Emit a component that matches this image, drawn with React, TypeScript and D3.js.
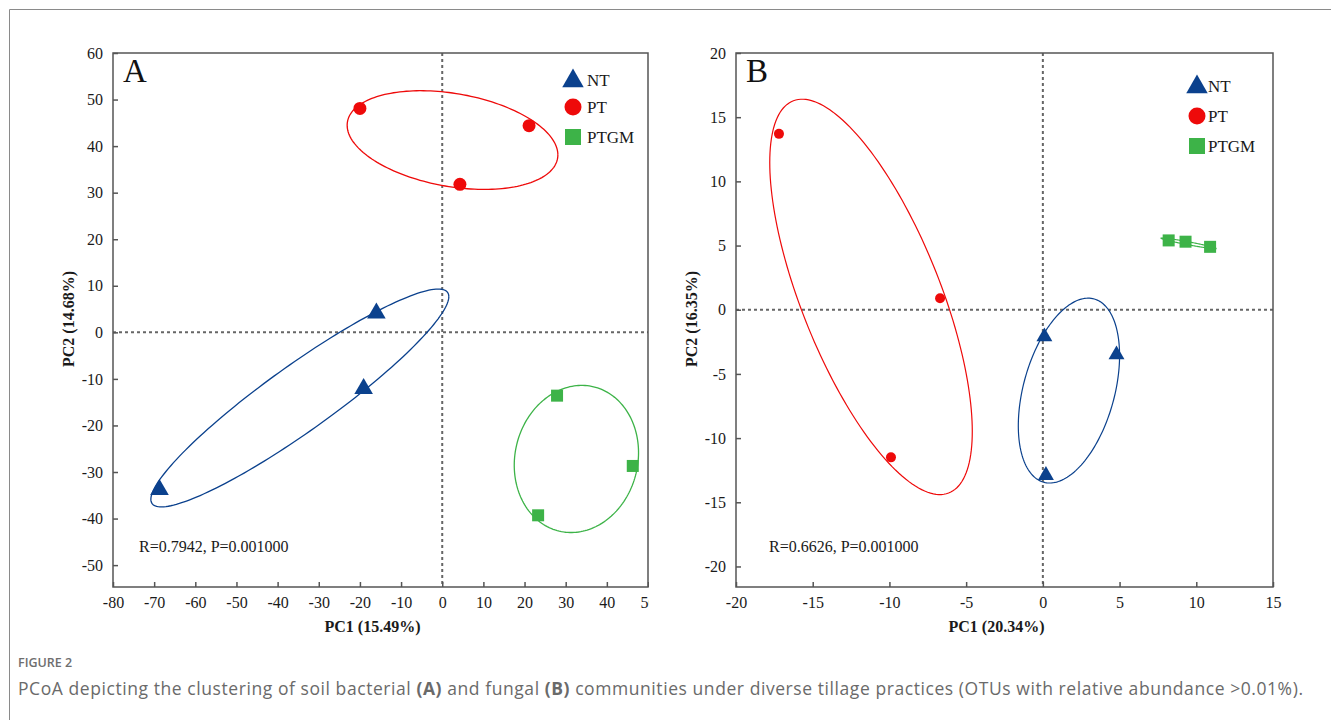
import React, { useEffect, useRef } from 'react';
import * as d3 from 'd3';

const groups = ['NT', 'PT', 'PTGM'];
const groupColors = ['#0b418d', '#ee0a0a', '#3db348'];

// panel A (bacteria), PC1 / PC2 scores
const aNT = [[-68.7, -33.8], [-19.1, -12.1], [-16.0, 4.1]];
const aPT = [[-20.0, 48.1], [21.1, 44.4], [4.3, 31.8]];
const aPTGM = [[27.9, -13.6], [46.3, -28.7], [23.3, -39.3]];
// ellipses: cx, cy, half-extent x, half-extent y, correlation
const aEllipses = [
    [-34.6, -14.1, 36.2, 23.4, 0.93],
    [2.5, 41.3, 25.6, 10.6, -0.3],
    [32.6, -27.2, 15.1, 15.8, 0.085],
];
const aXTicks = [-80, -70, -60, -50, -40, -30, -20, -10, 0, 10, 20, 30, 40, 50];
const aYTicks = [-50, -40, -30, -20, -10, 0, 10, 20, 30, 40, 50, 60];

// panel B (fungi)
const bNT = [[0.1, -2.1], [4.8, -3.5], [0.2, -12.9]];
const bPT = [[-17.2, 13.7], [-6.7, 0.9], [-9.9, -11.5]];
const bPTGM = [[8.2, 5.4], [9.3, 5.3], [10.9, 4.9]];
const bEllipses = [
    [1.7, -6.3, 3.3, 7.2, 0.38],
    [-11.2, 1.0, 6.6, 15.4, -0.68],
    [9.5, 5.17, 1.8, 0.42, -0.96],
];
const bXTicks = [-20, -15, -10, -5, 0, 5, 10, 15];
const bYTicks = [-20, -15, -10, -5, 0, 5, 10, 15, 20];

const serif = '"Liberation Serif", "Times New Roman", serif';

const panels = [
    {
        id: 'A', left: 113, right: 648, xDomain: [-80, 50], yDomain: [-54.7, 60],
        series: [aNT, aPT, aPTGM], ellipses: aEllipses, xTicks: aXTicks, yTicks: aYTicks,
        xTitle: 'PC1 (15.49%)', yTitle: 'PC2 (14.68%)', stat: 'R=0.7942, P=0.001000',
        legendX: 573, legendY: [80, 107, 137], legendTextX: 587, big: true,
    },
    {
        id: 'B', left: 736, right: 1273, xDomain: [-20, 15], yDomain: [-21.6, 20],
        series: [bNT, bPT, bPTGM], ellipses: bEllipses, xTicks: bXTicks, yTicks: bYTicks,
        xTitle: 'PC1 (20.34%)', yTitle: 'PC2 (16.35%)', stat: 'R=0.6626, P=0.001000',
        legendX: 1197, legendY: [86, 116, 146], legendTextX: 1208, big: false,
    },
];

const top = 53;
const bottom = 587;

const App = () => {
    const svgRef = useRef(null);

    useEffect(() => {
        const svg = d3.select(svgRef.current);
        svg.selectAll('*').remove();

        // page frame
        svg.append('line').attr('x1', 9.5).attr('x2', 1331).attr('y1', 9.5).attr('y2', 9.5)
            .attr('stroke', '#8a8a8a').attr('stroke-width', 1);
        svg.append('line').attr('x1', 9.5).attr('x2', 9.5).attr('y1', 9.5).attr('y2', 720)
            .attr('stroke', '#8a8a8a').attr('stroke-width', 1);

        panels.forEach((p, pi) => {
            const x = d3.scaleLinear().domain(p.xDomain).range([p.left, p.right]);
            const y = d3.scaleLinear().domain(p.yDomain).range([bottom, top]);

            // panel A is cropped right at its frame in the original figure
            const clipId = `clip-${p.id}`;
            svg.append('clipPath').attr('id', clipId)
                .append('rect').attr('x', 0).attr('y', 0).attr('width', p.right + 1).attr('height', 720);
            const g = svg.append('g').attr('clip-path', pi === 0 ? `url(#${clipId})` : null);

            // zero lines
            g.append('line').attr('x1', x(0)).attr('x2', x(0)).attr('y1', top).attr('y2', bottom)
                .attr('stroke', '#666').attr('stroke-width', 2).attr('stroke-dasharray', '3,3');
            g.append('line').attr('x1', p.left).attr('x2', p.right).attr('y1', y(0)).attr('y2', y(0))
                .attr('stroke', '#666').attr('stroke-width', 2).attr('stroke-dasharray', '3,3');

            // ellipses
            const ang = d3.range(0, 361, 2).map(d => d * Math.PI / 180);
            const line = d3.line().x(d => x(d[0])).y(d => y(d[1]));
            p.ellipses.forEach((e, i) => {
                const [cx, cy, sx, sy, rho] = e;
                const pts = ang.map(t => [
                    cx + sx * Math.cos(t),
                    cy + sy * (rho * Math.cos(t) + Math.sqrt(1 - rho * rho) * Math.sin(t)),
                ]);
                g.append('path').attr('d', line(pts)).attr('fill', 'none')
                    .attr('stroke', groupColors[i]).attr('stroke-width', p.big ? 1.3 : 1.2);
            });

            // points
            const triSize = p.big ? 150 : 110;
            const circR = p.big ? 6.5 : 5;
            const sq = 12;
            p.series[0].forEach(d => {
                g.append('path').attr('d', d3.symbol(d3.symbolTriangle, triSize)())
                    .attr('transform', `translate(${x(d[0])},${y(d[1])})`).attr('fill', groupColors[0]);
            });
            p.series[1].forEach(d => {
                g.append('circle').attr('cx', x(d[0])).attr('cy', y(d[1])).attr('r', circR)
                    .attr('fill', groupColors[1]);
            });
            p.series[2].forEach(d => {
                g.append('rect').attr('x', x(d[0]) - sq / 2).attr('y', y(d[1]) - sq / 2)
                    .attr('width', sq).attr('height', sq).attr('fill', groupColors[2]);
            });

            // axes box
            g.append('rect').attr('x', p.left).attr('y', top).attr('width', p.right - p.left)
                .attr('height', bottom - top).attr('fill', 'none').attr('stroke', '#555').attr('stroke-width', 1.5);

            const fmt = d => String(d);
            const xAxis = g.append('g').attr('transform', `translate(0,${bottom})`)
                .call(d3.axisBottom(x).tickValues(p.xTicks).tickFormat(fmt)
                    .tickSizeInner(-5).tickSizeOuter(0).tickPadding(10));
            const yAxis = g.append('g').attr('transform', `translate(${p.left},0)`)
                .call(d3.axisLeft(y).tickValues(p.yTicks).tickFormat(fmt)
                    .tickSizeInner(-5).tickSizeOuter(0).tickPadding(10));
            [xAxis, yAxis].forEach(ax => {
                ax.select('.domain').remove();
                ax.selectAll('line').attr('stroke', '#555').attr('stroke-width', 1.5);
                ax.selectAll('text').attr('font-family', serif).attr('font-size', 16).attr('fill', '#1a1a1a');
            });

            // titles
            svg.append('text').attr('x', (p.left + p.right) / 2 - 8).attr('y', 632)
                .attr('text-anchor', 'middle').attr('font-family', serif).attr('font-size', 16)
                .attr('font-weight', 'bold').attr('fill', '#1a1a1a').text(p.xTitle);
            svg.append('text')
                .attr('transform', `translate(${p.left - 39},${(top + bottom) / 2 - 1}) rotate(-90)`)
                .attr('text-anchor', 'middle').attr('font-family', serif).attr('font-size', 16)
                .attr('font-weight', 'bold').attr('fill', '#1a1a1a').text(p.yTitle);

            svg.append('text').attr('x', p.left + 10).attr('y', 82).attr('font-family', serif)
                .attr('font-size', 33).attr('fill', '#111').text(p.id);

            svg.append('text').attr('x', p.left + 26 + (p.big ? 0 : 7)).attr('y', 552)
                .attr('font-family', serif).attr('font-size', 16).attr('fill', '#1a1a1a').text(p.stat);

            // legend
            const lx = p.legendX;
            const ly = p.legendY;
            svg.append('path').attr('d', d3.symbol(d3.symbolTriangle, 200)())
                .attr('transform', `translate(${lx},${ly[0] + 1})`).attr('fill', groupColors[0]);
            svg.append('circle').attr('cx', lx).attr('cy', ly[1]).attr('r', 8.5).attr('fill', groupColors[1]);
            svg.append('rect').attr('x', lx - 8).attr('y', ly[2] - 8).attr('width', 16).attr('height', 16)
                .attr('fill', groupColors[2]);
            groups.forEach((name, i) => {
                svg.append('text').attr('x', p.legendTextX).attr('y', ly[i] + 6)
                    .attr('font-family', serif).attr('font-size', 17).attr('fill', '#1a1a1a').text(name);
            });
        });

        // caption
        const sans = '"Open Sans", "Noto Sans", sans-serif';
        svg.append('text').attr('x', 18).attr('y', 667).attr('font-family', sans).attr('font-size', 12.5)
            .attr('font-weight', 600).attr('fill', '#6e6e6e').text('FIGURE 2');
        const cap = svg.append('text').attr('x', 18).attr('y', 695).attr('font-family', sans)
            .attr('font-size', 17.5).attr('fill', '#6a6a6a').attr('textLength', 1285)
            .attr('lengthAdjust', 'spacing');
        const parts = [
            ['PCoA depicting the clustering of soil bacterial ', false],
            ['(A)', true],
            [' and fungal ', false],
            ['(B)', true],
            [' communities under diverse tillage practices (OTUs with relative abundance >0.01%).', false],
        ];
        parts.forEach(([t, b]) => {
            cap.append('tspan').attr('font-weight', b ? 700 : 400).text(t);
        });
    }, []);

    return (
        <svg ref={svgRef} width={1331} height={720}
            style={{ position: 'absolute', left: 0, top: 0, background: '#fff' }} />
    );
};

export default App;
